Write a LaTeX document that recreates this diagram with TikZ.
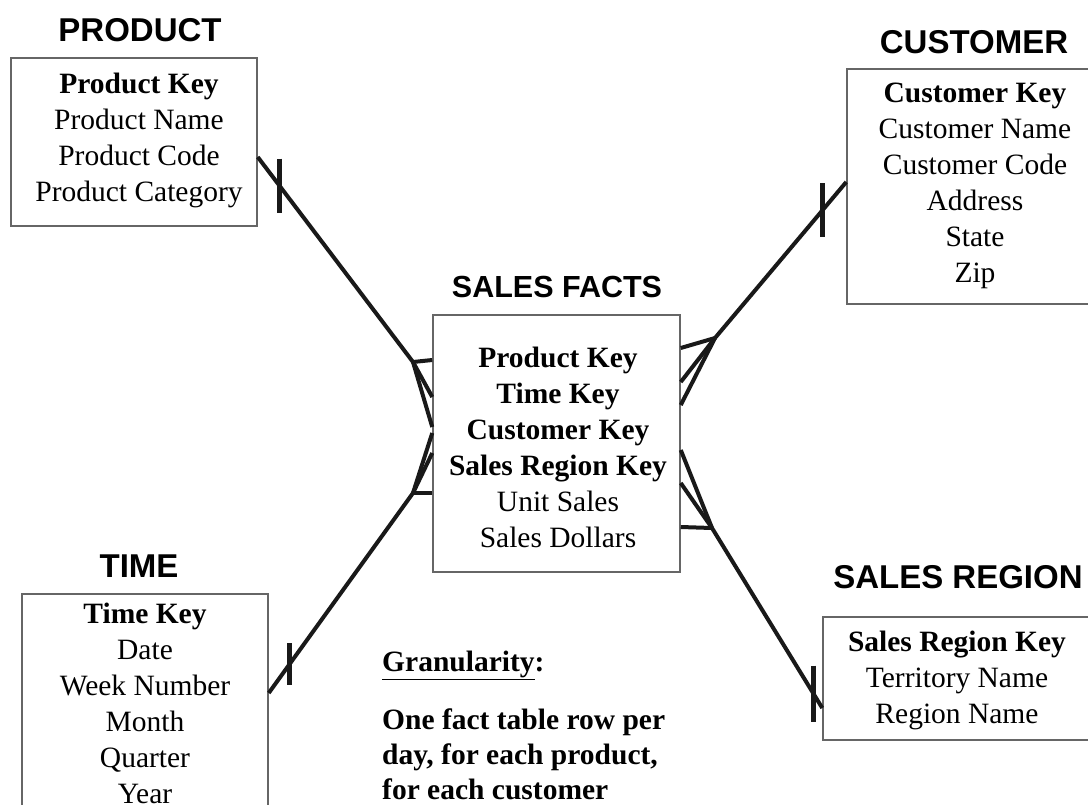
\documentclass[tikz,border=0pt]{standalone}
\usepackage{fontspec}
\setmainfont{Liberation Serif}
\setsansfont{Liberation Sans}
\usetikzlibrary{positioning,calc}

\begin{document}
\begin{tikzpicture}[
    x=1pt, y=-1pt,
    table/.style={draw=black!60, line width=1.5pt},
    title/.style={font=\sffamily\bfseries\fontsize{33}{36}\selectfont, inner sep=0pt},
    attrs/.style={font=\fontsize{29.5}{36}\selectfont, align=center, inner sep=0pt},
    note/.style={font=\bfseries\fontsize{29.5}{35}\selectfont, align=left, inner sep=0pt},
    link/.style={line width=4pt, black!90},
    bar/.style={line width=4.5pt, black!90},
]
\useasboundingbox (0,0) rectangle (1088,804);
\clip (0,0) rectangle (1088,804);

% Dimension and fact tables
\node[table, minimum width=246pt, minimum height=168pt] (product) at (134,142) {};
\node[table, minimum width=263pt, minimum height=235pt] (customer) at (978.5,186.5) {};
\node[table, minimum width=247pt, minimum height=257pt] (facts) at (556.5,443.5) {};
\node[table, minimum width=246pt, minimum height=236pt] (time) at (145,712) {};
\node[table, minimum width=287pt, minimum height=123pt] (region) at (966.5,678.5) {};

% Titles
\node[title] (productTitle) at (140,30) {PRODUCT};
\node[title] (customerTitle) at (974,42) {CUSTOMER};
\node[title, font=\sffamily\bfseries\fontsize{30.5}{36}\selectfont] (factsTitle) at (557,287) {SALES FACTS};
\node[title] (timeTitle) at (139,566) {TIME};
\node[title] (regionTitle) at (958,577) {SALES REGION};

% Attributes
\node[attrs] (productAttrs) at (139,140) {\textbf{Product Key}\\Product Name\\Product Code\\Product Category};
\node[attrs] (customerAttrs) at (975,186) {\textbf{Customer Key}\\Customer Name\\Customer Code\\Address\\State\\Zip};
\node[attrs] (factsAttrs) at (558,447) {\textbf{Product Key}\\\textbf{Time Key}\\\textbf{Customer Key}\\\textbf{Sales Region Key}\\Unit Sales\\Sales Dollars};
\node[attrs] (timeAttrs) at (145,703) {\textbf{Time Key}\\Date\\Week Number\\Month\\Quarter\\Year};
\node[attrs] (regionAttrs) at (957,680) {\textbf{Sales Region Key}\\Territory Name\\Region Name};

% Granularity note
\node[note, anchor=west] (granTitle) at (382,665) {\underline{Granularity}:};
\node[note, anchor=west] (granBody) at (382,754) {One fact table row per\\day, for each product,\\for each customer};

% Line ends and crow's feet
\coordinate (pEnd) at ([yshift=-15pt]product.east);
\coordinate (cEnd) at ([yshift=4.5pt]customer.west);
\coordinate (tEnd) at ([yshift=19pt]time.east);
\coordinate (rEnd) at ([yshift=-29.5pt]region.west);
\coordinate (pFoot) at (413,362);
\coordinate (tFoot) at (413,493);
\coordinate (cFoot) at (715,338);
\coordinate (rFoot) at (712,528);

% Product -- facts
\draw[link] (pEnd) -- (pFoot);
\draw[link] (pFoot) -- ([yshift=83.5pt]facts.west);
\draw[link] (pFoot) -- ([yshift=46.5pt]facts.west);
\draw[link] (pFoot) -- ([yshift=16.5pt]facts.west);
\draw[bar] ($(pEnd)!0.14!(pFoot)$) ++(0,-27) -- ++(0,54);

% Time -- facts
\draw[link] (tEnd) -- (tFoot);
\draw[link] (tFoot) -- ([yshift=10.5pt]facts.west);
\draw[link] (tFoot) -- ([yshift=-9.5pt]facts.west);
\draw[link] (tFoot) -- ([yshift=-49.5pt]facts.west);
\draw[bar] ($(tEnd)!0.145!(tFoot)$) ++(0,-21) -- ++(0,42);

% Customer -- facts
\draw[link] (cEnd) -- (cFoot);
\draw[link] (cFoot) -- ([yshift=95.5pt]facts.east);
\draw[link] (cFoot) -- ([yshift=61.5pt]facts.east);
\draw[link] (cFoot) -- ([yshift=38.5pt]facts.east);
\draw[bar] ($(cEnd)!0.18!(cFoot)$) ++(0,-27) -- ++(0,54);

% Sales region -- facts
\draw[link] (rEnd) -- (rFoot);
\draw[link] (rFoot) -- ([yshift=-6.5pt]facts.east);
\draw[link] (rFoot) -- ([yshift=-39.5pt]facts.east);
\draw[link] (rFoot) -- ([yshift=-83.5pt]facts.east);
\draw[bar] ($(rEnd)!0.08!(rFoot)$) ++(0,-28) -- ++(0,56);
\end{tikzpicture}
\end{document}
